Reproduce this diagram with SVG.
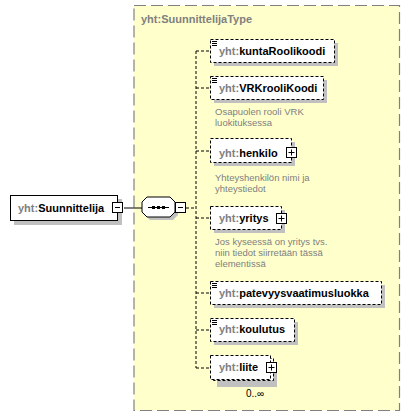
<svg xmlns="http://www.w3.org/2000/svg" width="410" height="417" viewBox="0 0 410 417">
<style>
.t{font-family:"Liberation Sans",Arial,sans-serif;font-size:11px;font-weight:bold;fill:#000}
.p{fill:#808080}
.d{font-family:"Liberation Sans",Arial,sans-serif;font-size:9.5px;fill:#808080}
.sh{fill:#c0c0c0}
.el{fill:#fff;stroke:#000;stroke-width:1;stroke-dasharray:3,2}
.ic{fill:#fff;stroke:#000;stroke-width:1}
.cn{fill:none;stroke:#000;stroke-width:1;stroke-dasharray:3,2}
</style>
<rect x="0" y="0" width="410" height="417" fill="#fff"/>
<g id="type">
<rect x="134" y="5.5" width="265.5" height="405" fill="#ffffcc" stroke="#808080" stroke-width="1.2" stroke-dasharray="12,5"/>
<text class="t p" x="141" y="23">yht:SuunnittelijaType</text>
</g>
<g id="connectors">
<line x1="124" y1="208" x2="142" y2="208" stroke="#000"/>
<path class="cn" d="M186,208H196M196,51V368M196,51H211M196,88H211M196,151H211M196,218H211M196,293H211M196,330H211M196,368H211"/>
</g>
<g id="Suunnittelija">
<rect class="sh" x="14" y="199" width="108" height="26"/>
<rect x="10.5" y="195.5" width="107" height="25" fill="#fff" stroke="#000"/>
<text class="t" x="18" y="212"><tspan class="p">yht:</tspan>Suunnittelija</text>
<rect class="ic" x="112.5" y="202.5" width="10" height="10"/>
<line x1="115" y1="207.5" x2="120" y2="207.5" stroke="#000"/>
</g>
<g id="sequence">
<polygon class="sh" points="150,200 173,200 178,205 178,215 173,220 150,220 145,215 145,205"/>
<polygon points="147,197 170,197 175,202 175,212 170,217 147,217 142,212 142,202" fill="#fff" stroke="#000"/>
<line x1="148" y1="207.5" x2="169" y2="207.5" stroke="#000"/>
<rect x="152" y="206" width="3" height="3" fill="#000"/>
<rect x="157" y="206" width="3" height="3" fill="#000"/>
<rect x="162" y="206" width="3" height="3" fill="#000"/>
<rect class="ic" x="175.5" y="202.5" width="10" height="10"/>
<line x1="178" y1="207.5" x2="183" y2="207.5" stroke="#000"/>
</g>
<g id="kuntaRoolikoodi">
<rect class="sh" x="214" y="43" width="124" height="23"/>
<rect class="el" x="210.5" y="39.5" width="124" height="23"/>
<path d="M212,41.5h5M212,43.5h5M212,45.5h5" stroke="#000"/>
<text class="t" x="219" y="55"><tspan class="p">yht:</tspan>kuntaRoolikoodi</text>
</g>
<g id="VRKrooliKoodi">
<rect class="sh" x="214" y="80" width="113" height="23"/>
<rect class="el" x="210.5" y="76.5" width="113" height="23"/>
<path d="M212,78.5h5M212,80.5h5M212,82.5h5" stroke="#000"/>
<text class="t" x="219" y="92"><tspan class="p">yht:</tspan>VRKrooliKoodi</text>
<text class="d" x="215" y="115">Osapuolen rooli VRK</text>
<text class="d" x="215" y="126">luokituksessa</text>
</g>
<g id="henkilo">
<rect class="sh" x="214" y="142" width="81" height="24"/>
<rect class="el" x="210.5" y="138.5" width="81" height="24"/>
<text class="t" x="219" y="157"><tspan class="p">yht:</tspan>henkilo</text>
<rect class="ic" x="286.5" y="147.5" width="10" height="10"/>
<path d="M288.5,152.5h6M291.5,149.5v6" stroke="#000"/>
<text class="d" x="215" y="181">Yhteyshenkilön nimi ja</text>
<text class="d" x="215" y="192">yhteystiedot</text>
</g>
<g id="yritys">
<rect class="sh" x="214" y="210" width="71" height="23"/>
<rect class="el" x="210.5" y="206.5" width="71" height="23"/>
<text class="t" x="219" y="222"><tspan class="p">yht:</tspan>yritys</text>
<rect class="ic" x="276.5" y="213.5" width="10" height="10"/>
<path d="M278.5,218.5h6M281.5,215.5v6" stroke="#000"/>
<text class="d" x="215" y="245">Jos kyseessä on yritys tvs.</text>
<text class="d" x="215" y="256">niin tiedot siirretään tässä</text>
<text class="d" x="215" y="267">elementissä</text>
</g>
<g id="patevyysvaatimusluokka">
<rect class="sh" x="214" y="285" width="171" height="23"/>
<rect class="el" x="210.5" y="281.5" width="171" height="23"/>
<path d="M212,283.5h5M212,285.5h5M212,287.5h5" stroke="#000"/>
<text class="t" x="219" y="297"><tspan class="p">yht:</tspan>patevyysvaatimusluokka</text>
</g>
<g id="koulutus">
<rect class="sh" x="214" y="322" width="84" height="23"/>
<rect class="el" x="210.5" y="318.5" width="84" height="23"/>
<path d="M212,320.5h5M212,322.5h5M212,324.5h5" stroke="#000"/>
<text class="t" x="219" y="333"><tspan class="p">yht:</tspan>koulutus</text>
</g>
<g id="liite">
<rect class="sh" x="217" y="362" width="60" height="25"/>
<rect class="el" x="213.5" y="358.5" width="60" height="22"/>
<rect class="el" x="210.5" y="355.5" width="60" height="24"/>
<text class="t" x="219" y="371"><tspan class="p">yht:</tspan>liite</text>
<rect class="ic" x="266.5" y="362.5" width="10" height="10"/>
<path d="M268.5,367.5h6M271.5,364.5v6" stroke="#000"/>
<text x="246" y="397" font-family="Liberation Sans,Arial,sans-serif" font-size="10" fill="#000">0..∞</text>
</g>
</svg>
